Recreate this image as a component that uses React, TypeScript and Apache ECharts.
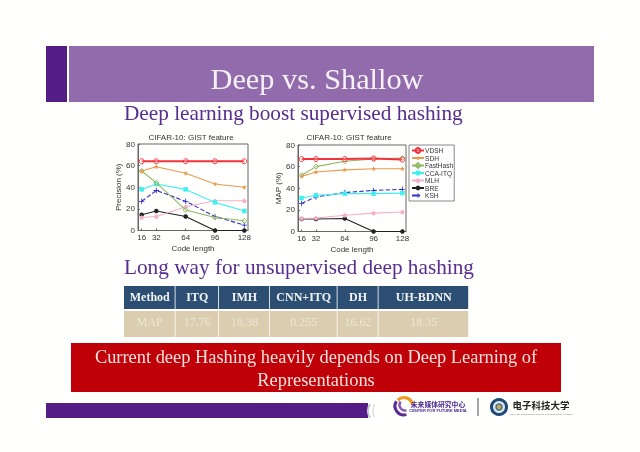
import React, { useEffect, useRef } from "react";
import * as echarts from "echarts";

const codeLengths = [16, 32, 64, 96, 128];
const methods = ["VDSH", "SDH", "FastHash", "CCA-ITQ", "MLH", "BRE", "KSH"];

const precisionVDSH = [64, 64, 64, 64, 64];
const precisionSDH = [55, 59, 53, 43, 40];
const precisionFastHash = [55, 44, 19, 12, 9];
const precisionCCA = [38, 43, 38, 26, 18];
const precisionMLH = [12, 13, 22, 27.5, 27.5];
const precisionBRE = [14.5, 18, 13, 0, 0];
const precisionKSH = [27, 37, 27, 13, 5];

const mapVDSH = [67, 67, 67, 67.5, 66.5];
const mapSDH = [51, 55, 57, 58, 58];
const mapFastHash = [52, 60, 65, 67, 68];
const mapCCA = [31, 33.5, 35, 35, 35.5];
const mapMLH = [12, 12.5, 15, 17, 18];
const mapBRE = [11.5, 11.5, 12, 0, 0];
const mapKSH = [26, 32, 36, 38, 39];

const tableHeaders = ["Method", "ITQ", "IMH", "CNN+ITQ", "DH", "UH-BDNN"];
const tableValues = ["MAP", "17.76", "18.38", "0.255", "16.62", "18.35"];
const tableEdges = [124, 175.5, 219, 270, 337.5, 378.5, 469];

const colors = ["#f2323c", "#e89a50", "#90b860", "#40f0f0", "#f6afc8", "#222222", "#3030c8"];
const symbols = [
  "circle",
  "path://M0 -10L3 -3L10 -3L4 2L6 10L0 5L-6 10L-4 2L-10 -3L-3 -3Z",
  "diamond",
  "rect",
  "path://M0 -10L10 -2L6 10L-6 10L-10 -2Z",
  "circle",
  "path://M-1.5 -10H1.5V-1.5H10V1.5H1.5V10H-1.5V1.5H-10V-1.5H-1.5Z",
];
const hollow = [true, false, true, false, false, false, false];
const sizes = [5, 5, 5, 4.5, 4.5, 4.5, 5.5];

const precisionSets = [precisionVDSH, precisionSDH, precisionFastHash, precisionCCA, precisionMLH, precisionBRE, precisionKSH];
const mapSets = [mapVDSH, mapSDH, mapFastHash, mapCCA, mapMLH, mapBRE, mapKSH];

const serif = "Liberation Serif";
const sans = "Liberation Sans";
const axisGray = "#666666";

function makeSeries(sets: number[][], axisIndex: number) {
  return sets.map((vals, i) => ({
    name: methods[i],
    type: "line",
    xAxisIndex: axisIndex,
    yAxisIndex: axisIndex,
    data: vals.map((v, j) => [codeLengths[j], v]),
    symbol: symbols[i],
    symbolSize: sizes[i],
    showSymbol: true,
    lineStyle: { color: colors[i], width: i === 0 ? 2 : 1.1, type: i === 6 ? "dashed" : "solid" },
    itemStyle: hollow[i]
      ? { color: "rgba(255,255,255,0.2)", borderColor: colors[i], borderWidth: 1 }
      : { color: colors[i] },
    z: 10 - i,
  }));
}

function makeX(index: number) {
  return {
    type: "value",
    gridIndex: index,
    min: 12,
    max: 132,
    name: "Code length",
    nameLocation: "middle",
    nameGap: 13.5,
    nameTextStyle: { fontFamily: sans, fontSize: 8, color: "#333" },
    splitLine: { show: false },
    axisLine: { show: true, onZero: false, lineStyle: { color: axisGray, width: 1 } },
    axisTick: { show: true, inside: true, length: 2, customValues: codeLengths, lineStyle: { color: axisGray } },
    axisLabel: { customValues: codeLengths, fontFamily: sans, fontSize: 8, color: "#333", margin: 3, hideOverlap: false },
  };
}

function makeY(index: number, name: string, gap: number) {
  return {
    type: "value",
    gridIndex: index,
    min: 0,
    max: 80,
    interval: 20,
    name,
    nameLocation: "middle",
    nameGap: gap,
    nameMoveOverlap: false,
    nameTextStyle: { fontFamily: sans, fontSize: 8, color: "#333" },
    splitLine: { show: false },
    axisLine: { show: true, lineStyle: { color: axisGray, width: 1 } },
    axisTick: { show: true, inside: true, length: 2, lineStyle: { color: axisGray } },
    axisLabel: { fontFamily: sans, fontSize: 8, color: "#333", margin: 3 },
  };
}

function rect(x: number, y: number, w: number, h: number, fill: string, extra: any = {}) {
  return { type: "rect", silent: true, shape: { x, y, width: w, height: h }, style: { fill }, z: -5, ...extra };
}

function text(x: number, y: number, t: string, fontSize: number, fill: string, family = serif, align = "center", weight = "normal") {
  return {
    type: "text",
    silent: true,
    x,
    y,
    z: 5,
    style: { text: t, x: 0, y: 0, fill, fontSize, fontFamily: family, fontWeight: weight, align, verticalAlign: "middle" },
  };
}

function arc(cx: number, cy: number, r: number, a0: number, a1: number, stroke: string, lineWidth: number) {
  return {
    type: "arc",
    silent: true,
    z: 4,
    shape: { cx, cy, r, startAngle: a0, endAngle: a1 },
    style: { stroke, lineWidth, fill: "none" },
  };
}

function tableGraphics() {
  const out: any[] = [];
  tableHeaders.forEach((h, i) => {
    const x0 = tableEdges[i];
    const x1 = tableEdges[i + 1];
    out.push(rect(x0, 286, x1 - x0 - 0.8, 23, "#2b4e72"));
    out.push(rect(x0, 311, x1 - x0 - 0.8, 26, "#dacdb0"));
    out.push(text((x0 + x1) / 2, 297, h, 12, "#f2f4f6", serif, "center", "bold"));
    out.push(text((x0 + x1) / 2, 321.5, tableValues[i], 12, "#ede6d6"));
  });
  return out;
}

const slideGraphics = [
  rect(46, 46, 21, 56, "#531c87"),
  rect(69, 46, 525, 56, "#916bab"),
  text(317, 79, "Deep vs. Shallow", 30.3, "#f5f1f7"),
  text(124, 113, "Deep learning boost supervised hashing", 21.25, "#572d8f", serif, "left"),
  text(124, 267, "Long way for unsupervised deep hashing", 21.25, "#572d8f", serif, "left"),
  ...tableGraphics(),
  rect(71, 343, 490, 49, "#c00008"),
  text(316, 357, "Current deep Hashing heavily depends on Deep Learning of", 18.4, "#f6e2dc"),
  text(316, 380, "Representations", 18.4, "#f6e2dc"),
  rect(46, 403, 322, 15, "#531c87"),
  arc(381, 411, 13, 2.6, 3.7, "#c5c5d0", 2),
  arc(388, 411, 15, 2.7, 3.6, "#dddde4", 1.5),
  arc(404, 406, 9, 1.3, 3.7, "#5b2a96", 3),
  arc(405, 405, 5.5, 1.3, 3.8, "#8a5cb8", 2.5),
  arc(404, 406, 8.5, 3.9, 6.2, "#ef9a1e", 3),
  text(438, 403.5, "未来媒体研究中心", 6.8, "#4a2a92", "Noto Sans CJK SC", "center", "bold"),
  text(438, 410, "CENTER FOR FUTURE MEDIA", 4, "#4a2a92", sans, "center", "bold"),
  rect(477.5, 398, 1, 18, "#4a5060"),
  { type: "circle", silent: true, z: 4, shape: { cx: 499, cy: 407, r: 7.5 }, style: { fill: "#dfe6e8", stroke: "#1d4a78", lineWidth: 3 } },
  { type: "circle", silent: true, z: 5, shape: { cx: 499, cy: 407, r: 3 }, style: { fill: "#d9a441", stroke: "#38709c", lineWidth: 1.5 } },
  text(541, 405, "电子科技大学", 9.5, "#222222", "Noto Sans CJK SC", "center", "bold"),
  text(541, 414, "University of Electronic Science and Technology of China", 2.5, "#777777", sans),
];

const titleStyle = { fontFamily: sans, fontSize: 8, fontWeight: "normal", color: "#333" };

const option = {
  animation: false,
  backgroundColor: "#fffffd",
  title: [
    { text: "CIFAR-10: GIST feature", left: 191, top: 133, padding: 0, textAlign: "center", textStyle: titleStyle },
    { text: "CIFAR-10: GIST feature", left: 349, top: 133, padding: 0, textAlign: "center", textStyle: titleStyle },
  ],
  grid: [
    { left: 138, top: 144, width: 110, height: 86.5, show: true, borderColor: axisGray, borderWidth: 1, backgroundColor: "transparent" },
    { left: 298, top: 145, width: 108, height: 86.5, show: true, borderColor: axisGray, borderWidth: 1, backgroundColor: "transparent" },
  ],
  xAxis: [makeX(0), makeX(1)],
  yAxis: [makeY(0, "Precision (%)", 16), makeY(1, "MAP (%)", 16)],
  legend: {
    data: methods,
    orient: "vertical",
    left: 409,
    top: 145,
    padding: [2, 1, 2, 2],
    itemGap: 0.5,
    itemWidth: 12,
    itemHeight: 6,
    backgroundColor: "#ffffff",
    borderColor: "#888888",
    borderWidth: 1,
    textStyle: { fontFamily: sans, fontSize: 6.6, color: "#333", padding: [0, 0, 0, -4] },
  },
  series: [...makeSeries(precisionSets, 0), ...makeSeries(mapSets, 1)],
  graphic: { elements: slideGraphics },
};

export default function App() {
  const ref = useRef<HTMLDivElement>(null);
  useEffect(() => {
    const chart = echarts.init(ref.current!, undefined, { renderer: "svg" });
    chart.setOption(option as any);
    return () => chart.dispose();
  }, []);
  return <div ref={ref} style={{ position: "fixed", left: 0, top: 0, width: 640, height: 452, filter: "blur(0.5px)" }} />;
}
